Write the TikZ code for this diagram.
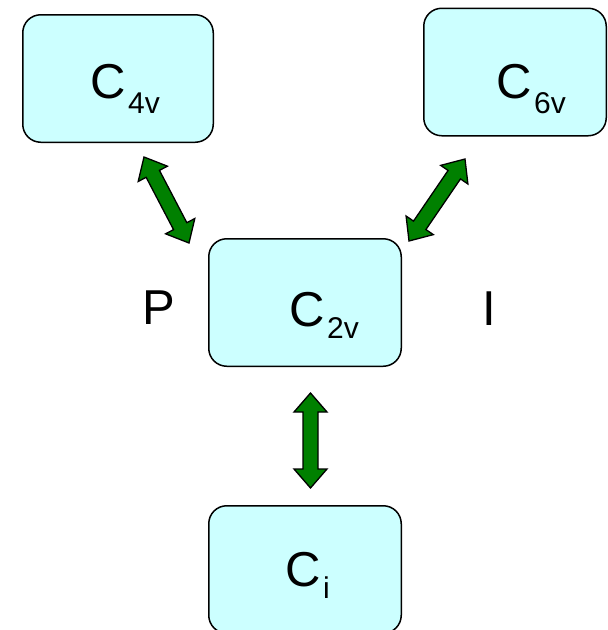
\documentclass[tikz,border=0pt]{standalone}
\usepackage{fontspec}
\setmainfont{Liberation Sans}
\usetikzlibrary{calc}
\definecolor{boxfill}{HTML}{CCFFFF}
\definecolor{arrowgreen}{HTML}{008000}
\newcommand\subtxt[2]{\kern2pt\raisebox{-#1}{\fontsize{30}{30}\selectfont #2}}
% fat double-headed arrow between two named points
\newcommand\fatarrow[2]{%
  \filldraw[fatarrow] (#1)
    -- ($(#1)!19pt!(#2)!16.5pt!90:(#2)$)
    -- ($(#1)!19pt!(#2)!7.5pt!90:(#2)$)
    -- ($(#2)!19pt!(#1)!7.5pt!-90:(#1)$)
    -- ($(#2)!19pt!(#1)!16.5pt!-90:(#1)$)
    -- (#2)
    -- ($(#2)!19pt!(#1)!16.5pt!90:(#1)$)
    -- ($(#2)!19pt!(#1)!7.5pt!90:(#1)$)
    -- ($(#1)!19pt!(#2)!7.5pt!-90:(#2)$)
    -- ($(#1)!19pt!(#2)!16.5pt!-90:(#2)$)
    -- cycle;}
\begin{document}
\begin{tikzpicture}[x=1pt,y=-1pt,
  groupbox/.style={draw=black, line width=1.5pt, fill=boxfill,
    rounded corners=18pt, inner sep=0pt, minimum height=127.5pt},
  lbl/.style={anchor=base west, inner sep=0pt,
    font=\fontsize{49}{49}\selectfont},
  fatarrow/.style={fill=arrowgreen, draw=black, line width=1.3pt,
    line join=miter}]
\useasboundingbox (0,0) rectangle (608,630);
% boxes
\node[groupbox, minimum width=190.5pt] (b4) at (118,78.5) {};
\node[groupbox, minimum width=182.5pt] (b6) at (515,72) {};
\node[groupbox, minimum width=192.5pt] (b2) at (305,302.5) {};
\node[groupbox, minimum width=192.5pt] (bi) at (305,569.5) {};
% labels
\node[lbl] (t4) at (90.5,98) {C\subtxt{15pt}{4v}};
\node[lbl] (t6) at (496.5,98) {C\subtxt{15pt}{6v}};
\node[lbl] (t2) at (289.5,326) {C\subtxt{12pt}{2v}};
\node[lbl] (ti) at (285.5,586) {C\subtxt{12pt}{i}};
\node[lbl] (tp) at (142,324) {P};
\node[lbl] (tI) at (482.7,325) {I};
% arrow end points
\coordinate (a1s) at (144,157);
\coordinate (a1e) at (189,243);
\coordinate (a2s) at (465,159);
\coordinate (a2e) at (409,241);
\coordinate (a3s) at (310.5,393);
\coordinate (a3e) at (310.5,488);
\fatarrow{a1s}{a1e}
\fatarrow{a2s}{a2e}
\fatarrow{a3s}{a3e}
\end{tikzpicture}
\end{document}
